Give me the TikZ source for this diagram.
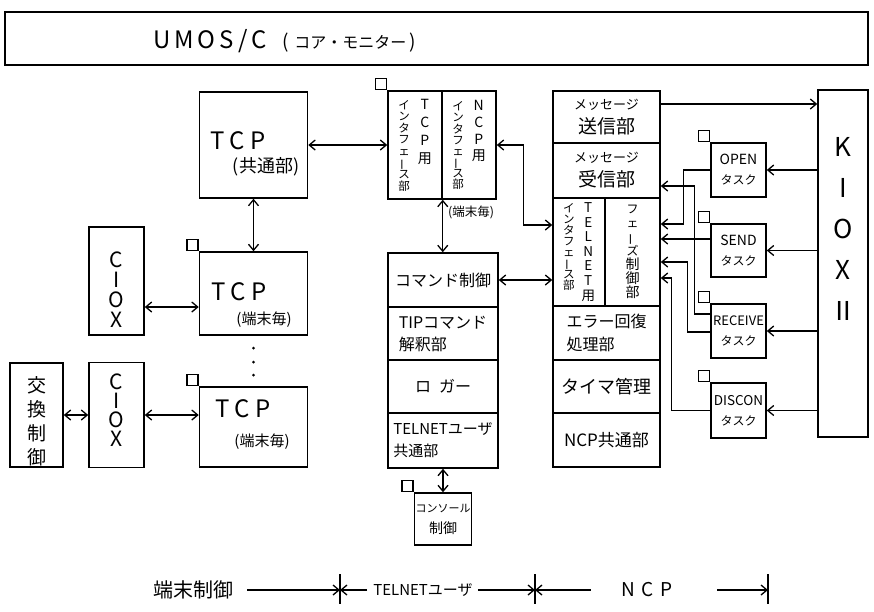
\documentclass[tikz,border=0pt]{standalone}
\usepackage{fontspec}
\setmainfont{Noto Sans CJK JP}
\usetikzlibrary{arrows.meta,calc}
\newcommand\fsz[1]{\fontsize{#1}{#1}\selectfont}
% one column of upright characters, fixed pitch
\newcommand\vcol[2]{\vtop{\baselineskip=#1\lineskiplimit=-\maxdimen\lineskip=0pt\halign{\hfil##\hfil\cr#2\crcr}}}
\newcommand\vchoon{\rotatebox[origin=c]{90}{ー}}
\tikzset{
  box/.style      = {draw, line width=1.5pt, inner sep=0pt, align=center},
  flag/.style     = {draw, line width=1.4pt, minimum size=11pt, inner sep=0pt, anchor=south east},
  lbl/.style      = {inner sep=1pt, align=center},
  arr/.style      = {-{Straight Barb[length=6pt,width=10pt]}, line width=1.3pt},
  dbl/.style      = {{Straight Barb[length=6pt,width=10pt]}-{Straight Barb[length=6pt,width=10pt]}, line width=1.3pt},
  tickline/.style = {line width=1.3pt}
}
\begin{document}
\begin{tikzpicture}[x=1pt,y=-1pt]
  \useasboundingbox (0,0) rectangle (874,611);

  % title
  \node[box, minimum width=863, minimum height=53] (title) at (436.5,38.5) {};
  \node[lbl, anchor=west] (titletxt) at (152,41)
    {{\fsz{24}U\,M\,O\,S\,/\,C}\hspace{16pt}{\fsz{19}(}\hspace{5pt}{\fsz{16}コア・モニター}\hspace{3pt}{\fsz{19})}};

  % terminal control
  \node[box, minimum width=108, minimum height=106] (tcpc) at (253.5,145) {};
  \node[lbl] (tcpcA) at (238,141) {\fsz{24}T\hspace{5pt}C\hspace{5pt}P};
  \node[lbl] (tcpcB) at (266,167) {\fsz{18}(共通部)};

  \node[box, minimum width=108, minimum height=83] (tcpt1) at (253.5,293.5) {};
  \node[flag] (ftcpt1) at (tcpt1.north west) {};
  \node[lbl] (tcpt1A) at (239,292) {\fsz{24}T\hspace{5pt}C\hspace{5pt}P};
  \node[lbl] (tcpt1B) at (264,320) {\fsz{15}(端末毎)};

  \foreach \y in {348,362,375} \fill (253.5,\y) circle (1.5);

  \node[box, minimum width=108, minimum height=80] (tcpt2) at (253.5,427) {};
  \node[flag] (ftcpt2) at (tcpt2.north west) {};
  \node[lbl] (tcpt2A) at (243,409) {\fsz{24}T\hspace{5pt}C\hspace{5pt}P};
  \node[lbl] (tcpt2B) at (262,442) {\fsz{15}(端末毎)};

  \node[box, minimum width=55, minimum height=108] (ciox1) at (116.5,281) {};
  \node[lbl] (ciox1txt) at (116.5,290) {\fsz{21}\vcol{20pt}{C\cr I\cr O\cr X}};
  \node[box, minimum width=55, minimum height=105] (ciox2) at (116.5,415) {};
  \node[lbl] (ciox2txt) at (116.5,410) {\fsz{21}\vcol{19pt}{C\cr I\cr O\cr X}};
  \node[box, minimum width=53, minimum height=104] (kokan) at (36.5,415) {};
  \node[lbl] (kokantxt) at (36.5,421) {\fsz{19}\vcol{24pt}{交\cr 換\cr 制\cr 御}};

  % TELNET user
  \node[box, minimum width=54, minimum height=108] (itcp) at (415,145)
    {\fsz{11.5}\vcol{11.6pt}{イ\cr ン\cr タ\cr フ\cr ェ\cr \vchoon\cr ス\cr 部}\hspace{8pt}\fsz{14}\vcol{18pt}{T\cr C\cr P\cr 用}};
  \node[flag] (fitcp) at (itcp.north west) {};
  \node[box, minimum width=54, minimum height=108] (incp) at (469,145)
    {\fsz{11.5}\vcol{11.1pt}{イ\cr ン\cr タ\cr フ\cr ェ\cr \vchoon\cr ス\cr 部}\hspace{8pt}\fsz{14}\vcol{16.7pt}{N\cr C\cr P\cr 用}};
  \node[lbl] (pertm) at (471,212) {\fsz{12.5}(端末毎)};

  \node[box, minimum width=110, minimum height=54, font=\fsz{16}] (ucmd) at (443,280) {コマンド制御};
  \node[box, minimum width=110, minimum height=53, align=left, font=\fontsize{16}{22}\selectfont] (utip) at (443,333.5) {TIPコマンド\\解釈部};
  \node[box, minimum width=110, minimum height=53, font=\fsz{16}] (ulog) at (443,386.5) {ロ\hspace{8pt}ガー};
  \node[box, minimum width=110, minimum height=55, align=left, font=\fontsize{15}{22}\selectfont] (ucom) at (443,440.5) {TELNETユーザ\\共通部};
  \node[box, minimum width=57, minimum height=52, font=\fontsize{14}{21}\selectfont] (console) at (443,519) {{\fsz{11}コンソール}\\制御};
  \node[flag] (fconsole) at (console.north west) {};

  % NCP
  \node[box, minimum width=107, minimum height=52, font=\fontsize{19}{24}\selectfont] (msend) at (606.5,117) {{\fsz{13}メッセージ}\\送信部};
  \node[box, minimum width=107, minimum height=55, font=\fontsize{19}{24}\selectfont] (mrecv) at (606.5,170.5) {{\fsz{13}メッセージ}\\受信部};
  \node[box, minimum width=52, minimum height=108] (ntel) at (579,252)
    {\fsz{11.5}\vcol{11pt}{イ\cr ン\cr タ\cr フ\cr ェ\cr \vchoon\cr ス\cr 部}\hspace{7pt}\fsz{13.5}\vcol{14.6pt}{T\cr E\cr L\cr N\cr E\cr T\cr 用}};
  \node[box, minimum width=55, minimum height=108] (nphase) at (632.5,252)
    {\vcol{14pt}{{\fsz{12}フ}\cr {\fsz{12}ェ}\cr {\fsz{12}\vchoon}\cr {\fsz{12}ズ}\cr {\fsz{14}制}\cr {\fsz{14}御}\cr {\fsz{14}部}}};
  \node[box, minimum width=107, minimum height=54, align=left, font=\fontsize{16}{23}\selectfont] (nerr) at (606.5,333) {エラー回復\\処理部};
  \node[box, minimum width=107, minimum height=53, font=\fsz{18}] (ntimer) at (606.5,386.5) {タイマ管理};
  \node[box, minimum width=107, minimum height=54, font=\fsz{17}] (ncom) at (606.5,440) {NCP共通部};

  % tasks
  \node[box, minimum width=55, minimum height=54, font=\fontsize{14}{20}\selectfont] (open) at (738.5,170) {OPEN\\{\fsz{12}タスク}};
  \node[box, minimum width=55, minimum height=53, font=\fontsize{14}{20}\selectfont] (send) at (738.5,250.5) {SEND\\{\fsz{12}タスク}};
  \node[box, minimum width=55, minimum height=54, font=\fontsize{13}{20}\selectfont] (recv) at (738.5,331) {RECEIVE\\{\fsz{12}タスク}};
  \node[box, minimum width=55, minimum height=55, font=\fontsize{13.5}{20}\selectfont] (discon) at (738.5,410.5) {DISCON\\{\fsz{12}タスク}};
  \foreach \t in {open,send,recv,discon}
    \node[flag] (f\t) at (\t.north west) {};

  \node[box, minimum width=50, minimum height=347] (kiox) at (843,263.5) {};
  \node[lbl] (kioxtxt) at (843,229) {\fsz{26}\vcol{41pt}{K\cr I\cr O\cr X\cr Ⅱ}};

  % connectors
  \draw[dbl] (tcpc) -- (itcp);
  \draw[dbl] (tcpc) -- (tcpt1);
  \coordinate (c1) at ($(ciox1.east)+(0,26)$);
  \draw[dbl] (c1) -- (c1 -| tcpt1.west);
  \draw[dbl] (kokan) -- (ciox2);
  \draw[dbl] (ciox2.east) -- (ciox2.east -| tcpt2.west);
  \draw[dbl] (itcp.south east) -- (itcp.south east |- ucmd.north);
  \coordinate (ni) at ($(ntel.west)+(0,-27)$);
  \draw[dbl] (incp.east) -- ++(27,0) |- (ni);
  \draw[dbl] (ucmd.east) -- (ucmd.east -| ntel.west);
  \draw[dbl] (ucom) -- (console);

  \coordinate (ms) at ($(msend.east)+(0,-13)$);
  \draw[arr] (ms) -- (ms -| kiox.west);
  \foreach \t in {open,send,recv,discon}
    \draw[arr] (kiox.west |- \t.east) -- (\t.east);

  \coordinate (rv) at ($(recv.west)+(0,-17)$);
  \draw[arr] (rv) -- ++(-16,0) |- ($(mrecv.east)+(0,15.5)$);
  \draw[arr] (open.west) -- ++(-27,0) |- ($(nphase.east)+(0,-28)$);
  \coordinate (sd) at ($(send.west)+(0,-11.5)$);
  \draw[arr] (sd) -- (sd -| nphase.east);
  \draw[arr] ($(recv.west)+(0,1)$) -- ++(-23,0) |- ($(nphase.east)+(0,10)$);
  \draw[arr] (discon.west) -- ++(-39,0) |- ($(nphase.east)+(0,26)$);

  % legend
  \node[lbl] (lterm) at (193,590) {\fsz{20}端末制御};
  \node[lbl] (ltel) at (423,590) {\fsz{15}TELNETユーザ};
  \node[lbl] (lncp) at (647,590) {\fsz{19}N\hspace{7pt}C\hspace{7pt}P};
  \coordinate (t1) at (340,590);
  \coordinate (t2) at (535,590);
  \coordinate (t3) at (768,590);
  \foreach \t in {t1,t2,t3}
    \draw[tickline] ($(\t)+(0,-16)$) -- ($(\t)+(0,14)$);
  \draw[arr] ($(lterm.east)+(13,0)$) -- (t1);
  \draw[arr] ($(ltel.west)+(-5,0)$) -- (t1);
  \draw[arr] ($(ltel.east)+(4,0)$) -- (t2);
  \draw[arr] ($(lncp.west)+(-29,0)$) -- (t2);
  \draw[arr] ($(lncp.east)+(43,0)$) -- (t3);
\end{tikzpicture}
\end{document}
